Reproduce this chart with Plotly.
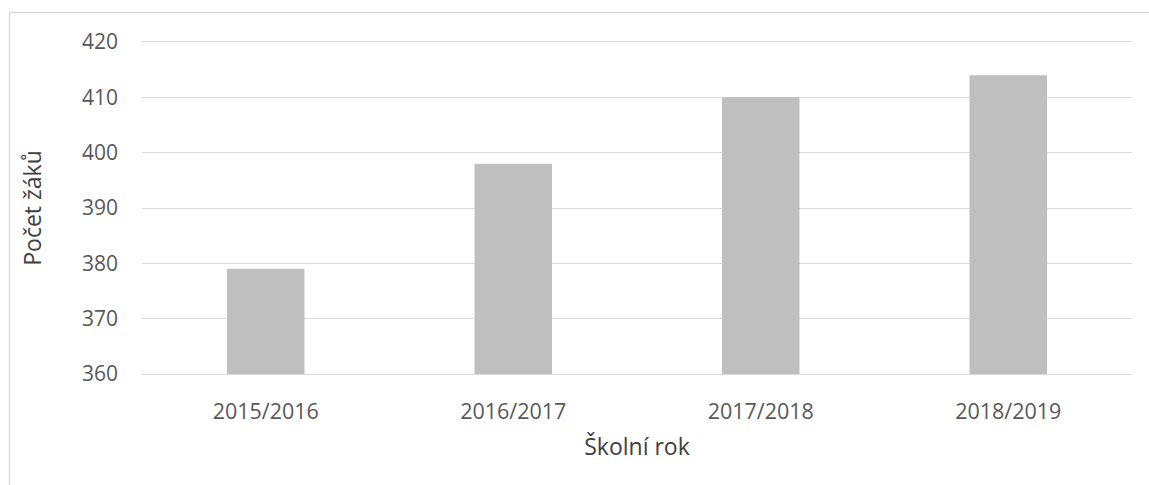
import plotly.graph_objects as go

school_years = ["2015/2016", "2016/2017", "2017/2018", "2018/2019"]
pupil_counts = [379, 398, 410, 414]

y_ticks = [360, 370, 380, 390, 400, 410, 420]

FONT = "Open Sans"
GREY_TEXT = "#595959"
GRID = "#d9d9d9"

fig = go.Figure()
fig.add_trace(go.Bar(
    x=school_years,
    y=pupil_counts,
    marker=dict(color="#bfbfbf", line=dict(width=0)),
))

W, H = 1149, 485
ml, mr, mt, mb = 142, 17, 42, 111
pw = W - ml - mr
ph = H - mt - mb

fig.update_layout(
    width=W, height=H,
    margin=dict(l=ml, r=mr, t=mt, b=mb, autoexpand=False),
    paper_bgcolor="white",
    plot_bgcolor="white",
    bargap=0.687,
    showlegend=False,
    font=dict(family=FONT, color=GREY_TEXT, size=21),
    xaxis=dict(
        showgrid=False, ticks="",
        showline=True, linecolor=GRID, linewidth=1.3, mirror=True,
        ticklabelstandoff=18,
        tickfont=dict(size=21.5, color=GREY_TEXT),
        title=dict(text="Školní rok", font=dict(size=23, color="#404040"), standoff=14),
        automargin=False,
    ),
    yaxis=dict(
        range=[360, 420],
        tickvals=y_ticks,
        showgrid=True, gridcolor=GRID, gridwidth=1.3,
        zeroline=False, showline=False, ticks="",
        ticklabelstandoff=23,
        tickfont=dict(size=21, color=GREY_TEXT),
        title=dict(text="Počet žáků", font=dict(size=23, color="#404040"), standoff=33),
        automargin=False,
    ),
    shapes=[dict(
        type="rect", xref="paper", yref="paper",
        x0=(9.5 - ml) / pw, x1=1.2,
        y0=-0.5, y1=(H - mb - 12.5) / ph,
        line=dict(color=GRID, width=1.3),
        fillcolor="rgba(0,0,0,0)", layer="below",
    )],
)

fig.write_html("out.html")
